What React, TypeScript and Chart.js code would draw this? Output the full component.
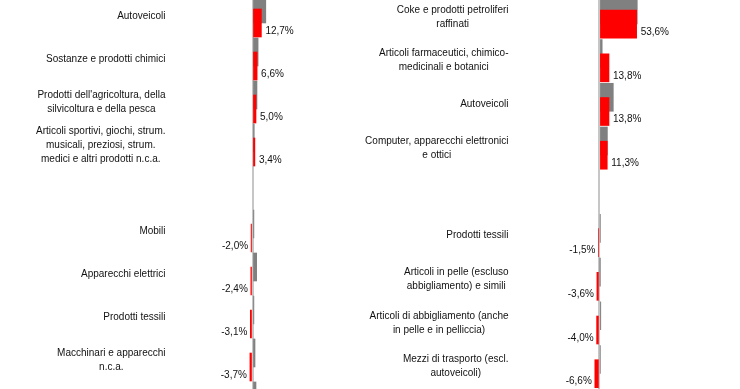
import React, { useEffect, useRef } from 'react';
import { Chart, registerables } from 'chart.js';

Chart.register(...registerables);

// ---------- DATA ----------
const leftCategories: (string | string[])[] = [
  'Autoveicoli',
  'Sostanze e prodotti chimici',
  ["Prodotti dell'agricoltura, della", 'silvicoltura e della pesca'],
  ['Articoli sportivi, giochi, strum.', 'musicali, preziosi, strum.', 'medici e altri prodotti n.c.a.'],
  '',
  'Mobili',
  'Apparecchi elettrici',
  'Prodotti tessili',
  ['Macchinari e apparecchi', 'n.c.a.'],
  '',
];
const leftCurrent: (number | null)[] = [12.7, 6.6, 5.0, 3.4, null, -2.0, -2.4, -3.1, -3.7, null];
const leftPrevious: (number | null)[] = [19.0, 8.0, 6.4, 2.5, null, 2.0, 6.0, 2.0, 3.6, 5.0];

const rightCategories: (string | string[])[] = [
  ['Coke e prodotti petroliferi', 'raffinati'],
  ['Articoli farmaceutici, chimico-', 'medicinali e botanici'],
  'Autoveicoli',
  ['Computer, apparecchi elettronici', 'e ottici'],
  '',
  'Prodotti tessili',
  ['Articoli in pelle (escluso', 'abbigliamento) e simili'],
  ['Articoli di abbigliamento (anche', 'in pelle e in pelliccia)'],
  ['Mezzi di trasporto (escl.', 'autoveicoli)'],
];
const rightCurrent: (number | null)[] = [53.6, 13.8, 13.8, 11.3, null, -1.5, -3.6, -4.0, -6.6];
const rightPrevious: (number | null)[] = [54.5, 4.0, 20.0, 11.5, null, 1.0, 0.5, 2.0, 1.0];

// ---------- LAYOUT ----------
const FONT = '"Liberation Sans", Arial, sans-serif';
const RED = '#ff0000';
const GREY = '#808080';
const OFFSET = 0.163;

interface PanelCfg {
  categories: (string | string[])[];
  current: (number | null)[];
  previous: (number | null)[];
  left: number;
  width: number;
  zeroPx: number;
  pxPerPct: number;
  firstCenter: number;
  rowPx: number;
  labelRight: number;
}

const HEIGHT = 389;

function Panel(cfg: PanelCfg) {
  const ref = useRef<HTMLCanvasElement | null>(null);
  useEffect(() => {
    if (!ref.current) return;
    const xMin = -cfg.zeroPx / cfg.pxPerPct;
    const xMax = (cfg.width - cfg.zeroPx) / cfg.pxPerPct;
    const yMin = -cfg.firstCenter / cfg.rowPx;
    const yMax = yMin + HEIGHT / cfg.rowPx;

    const labelsPlugin = {
      id: 'panelLabels',
      afterDatasetsDraw(chart: any) {
        const ctx: CanvasRenderingContext2D = chart.ctx;
        const y = chart.scales.y;
        ctx.save();
        ctx.font = `10px ${FONT}`;
        ctx.fillStyle = '#111111';
        ctx.textBaseline = 'middle';
        cfg.categories.forEach((lab, i) => {
          const lines = Array.isArray(lab) ? lab : [lab];
          if (lines.length === 0 || lines[0] === '') return;
          const cy = y.getPixelForValue(i);
          const maxW = Math.max(...lines.map((l) => ctx.measureText(l).width));
          const cx = cfg.labelRight - maxW / 2;
          ctx.textAlign = 'center';
          lines.forEach((l, k) => {
            ctx.fillText(l, cx, cy + (k - (lines.length - 1) / 2) * 14);
          });
        });
        const meta = chart.getDatasetMeta(0);
        meta.data.forEach((el: any, i: number) => {
          const v = cfg.current[i];
          if (v === null || v === undefined) return;
          const txt = v.toFixed(1).replace('.', ',') + '%';
          if (v >= 0) {
            ctx.textAlign = 'left';
            ctx.fillText(txt, el.x + 4, el.y + 8);
          } else {
            ctx.textAlign = 'right';
            ctx.fillText(txt, el.x - 3, el.y + 8);
          }
        });
        ctx.restore();
      },
    };

    const chart = new Chart(ref.current, {
      type: 'bar',
      data: {
        datasets: [
          {
            label: 'current',
            data: cfg.current.map((v, i) => ({ x: v, y: i + OFFSET })) as any,
            backgroundColor: RED,
            barThickness: 28,
            grouped: false,
            order: 0,
          },
          {
            label: 'previous',
            data: cfg.previous.map((v, i) => ({ x: v, y: i - OFFSET })) as any,
            backgroundColor: GREY,
            barThickness: 28,
            grouped: false,
            order: 1,
          },
        ],
      },
      options: {
        indexAxis: 'y',
        animation: false,
        responsive: false,
        maintainAspectRatio: false,
        layout: { padding: 0 },
        plugins: {
          legend: { display: false },
          tooltip: { enabled: false },
          title: { display: false },
        },
        scales: {
          x: {
            type: 'linear',
            min: xMin,
            max: xMax,
            offset: false,
            display: true,
            border: { display: false },
            ticks: { display: false, padding: 0 },
            grid: {
              offset: false,
              drawTicks: false,
              lineWidth: 2,
              color: (c: any) => (c.tick && c.tick.value === 0 ? '#c6c6c6' : 'rgba(0,0,0,0)'),
            },
            afterBuildTicks: (s: any) => {
              s.ticks = [{ value: 0 }];
            },
          },
          y: {
            type: 'linear',
            reverse: true,
            offset: false,
            min: yMin,
            max: yMax,
            display: false,
            grid: { offset: false },
          },
        },
      },
      plugins: [labelsPlugin],
    } as any);
    return () => chart.destroy();
  }, []);
  return (
    <canvas
      ref={ref}
      width={cfg.width}
      height={HEIGHT}
      style={{ position: 'absolute', left: cfg.left, top: 0, width: cfg.width, height: HEIGHT, display: 'block' }}
    />
  );
}

export default function App() {
  return (
    <div
      style={{
        position: 'fixed',
        left: 0,
        top: 0,
        width: 740,
        height: HEIGHT,
        overflow: 'hidden',
        background: '#ffffff',
      }}
    >
      <Panel
        categories={leftCategories}
        current={leftCurrent}
        previous={leftPrevious}
        left={0}
        width={370}
        zeroPx={252.5}
        pxPerPct={0.7}
        firstCenter={16}
        rowPx={43}
        labelRight={165.5}
      />
      <Panel
        categories={rightCategories}
        current={rightCurrent}
        previous={rightPrevious}
        left={360}
        width={380}
        zeroPx={239.4}
        pxPerPct={0.695}
        firstCenter={17}
        rowPx={43.7}
        labelRight={148.5}
      />
    </div>
  );
}
